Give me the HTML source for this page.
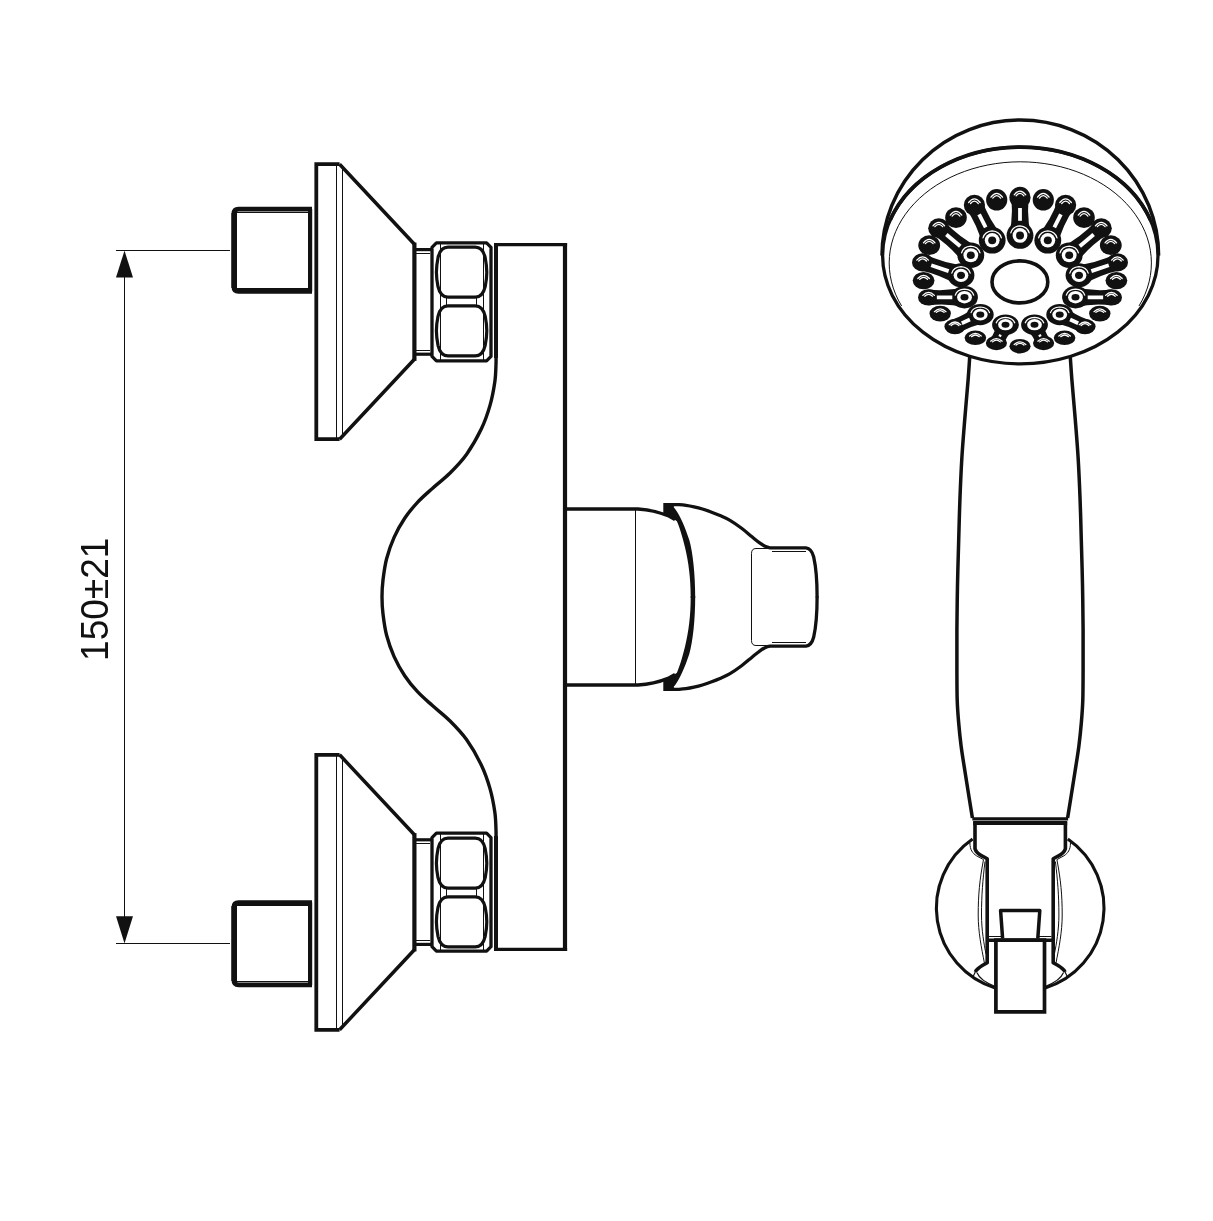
<!DOCTYPE html>
<html lang="en">
<head>
<meta charset="utf-8">
<title>Shower mixer — dimension drawing 150±21</title>
<style>
html,body{margin:0;padding:0;background:#fff;}
body{width:1213px;height:1221px;overflow:hidden;font-family:"Liberation Sans",Arial,sans-serif;}
svg{display:block;}
</style>
</head>
<body>
<svg role="img" aria-label="Shower mixer dimension drawing, inlet centres 150±21" width="1213" height="1221" viewBox="0 0 1213 1221" fill="none" stroke="#111" font-family="'Liberation Sans', Arial, sans-serif">
<g class="dim">
<line x1="116.0" y1="250.5" x2="230.0" y2="250.5" stroke-width="1" stroke-linecap="butt"/>
<line x1="116.0" y1="943.5" x2="230.0" y2="943.5" stroke-width="1" stroke-linecap="butt"/>
<line x1="124.5" y1="270.0" x2="124.5" y2="925.0" stroke-width="1" stroke-linecap="butt"/>
<polygon points="124.5,250.6 116,277.6 133,277.6" fill="#111" stroke="none"/>
<polygon points="124.5,943.4 116,916.3 133,916.3" fill="#111" stroke="none"/>
<text x="0" y="0" transform="translate(108 599.3) rotate(-90) scale(0.942 1)" text-anchor="middle" font-size="39.3" fill="#111" stroke="none" style="filter:grayscale(1)">150±21</text>
</g>
<g>
<path d="M312 209.2 H238.5 Q233.9 209.2 233.9 213.8 V286.8 Q233.9 291.4 238.5 291.4 H312" stroke-width="4.7" fill="none" />
<line x1="234.2" y1="213.0" x2="234.2" y2="288.0" stroke-width="5.6" stroke-linecap="butt"/>
<line x1="310.1" y1="209.0" x2="310.1" y2="291.6" stroke-width="4.2" stroke-linecap="butt"/>
<line x1="236.0" y1="212.5" x2="308.5" y2="212.5" stroke-width="1" stroke-linecap="butt"/>
<line x1="236.0" y1="288.5" x2="308.5" y2="288.5" stroke-width="1" stroke-linecap="butt"/>
<path d="M339.6 164.2 H316.3 V439.2 H339.6" stroke-width="3.8" fill="none" stroke-linejoin="miter"/>
<line x1="336.5" y1="165.0" x2="336.5" y2="438.0" stroke-width="1" stroke-linecap="butt"/>
<line x1="342.5" y1="168.0" x2="342.5" y2="435.0" stroke-width="1" stroke-linecap="butt"/>
<path d="M339.6 164.2 L414.4 244.3 M414.4 359.2 L339.6 439.2" stroke-width="3.5" fill="none" />
<line x1="414.4" y1="242.6" x2="414.4" y2="360.9" stroke-width="4.2" stroke-linecap="butt"/>
<line x1="414.4" y1="249.6" x2="431.0" y2="249.6" stroke-width="3.2" stroke-linecap="butt"/>
<line x1="414.4" y1="354.2" x2="431.0" y2="354.2" stroke-width="3.2" stroke-linecap="butt"/>
<line x1="416.0" y1="253.5" x2="430.0" y2="253.5" stroke-width="1" stroke-linecap="butt"/>
<line x1="416.0" y1="350.5" x2="430.0" y2="350.5" stroke-width="1" stroke-linecap="butt"/>
<path d="M436.4 242.9 H486.6 L491 247.3 V356.4 L486.6 360.8 H436.4 L432 356.4 V247.3 Z" stroke-width="3.3" fill="none" stroke-linejoin="round"/>
<path d="M448 247.2 H475.2 C479.7 247.2 483.6 250.7 485.2 257.7 C486.3 263.2 486.8 267.2 486.8 272.2 C486.8 277.2 486.3 281.2 485.2 286.7 C483.6 293.7 479.7 297.2 475.2 297.2 H448 C443.5 297.2 439.6 293.7 438 286.7 C436.9 281.2 436.4 277.2 436.4 272.2 C436.4 267.2 436.9 263.2 438 257.7 C439.6 250.7 443.5 247.2 448 247.2 Z" stroke-width="3.2" fill="none" />
<path d="M448 305.8 H475.2 C479.7 305.8 483.6 309.3 485.2 316.3 C486.3 321.8 486.8 325.8 486.8 330.8 C486.8 335.8 486.3 339.8 485.2 345.3 C483.6 352.3 479.7 355.8 475.2 355.8 H448 C443.5 355.8 439.6 352.3 438 345.3 C436.9 339.8 436.4 335.8 436.4 330.8 C436.4 325.8 436.9 321.8 438 316.3 C439.6 309.3 443.5 305.8 448 305.8 Z" stroke-width="3.2" fill="none" />
<line x1="440.5" y1="244.0" x2="440.5" y2="360.0" stroke-width="1" stroke-linecap="butt"/>
<line x1="483.5" y1="244.0" x2="483.5" y2="360.0" stroke-width="1" stroke-linecap="butt"/>
<line x1="446.5" y1="298.0" x2="446.5" y2="305.0" stroke-width="1" stroke-linecap="butt"/>
<line x1="476.5" y1="298.0" x2="476.5" y2="305.0" stroke-width="1" stroke-linecap="butt"/>
</g>
<g transform="translate(0 1194.0) scale(1 -1)">
<path d="M312 209.2 H238.5 Q233.9 209.2 233.9 213.8 V286.8 Q233.9 291.4 238.5 291.4 H312" stroke-width="4.7" fill="none" />
<line x1="234.2" y1="213.0" x2="234.2" y2="288.0" stroke-width="5.6" stroke-linecap="butt"/>
<line x1="310.1" y1="209.0" x2="310.1" y2="291.6" stroke-width="4.2" stroke-linecap="butt"/>
<line x1="236.0" y1="212.5" x2="308.5" y2="212.5" stroke-width="1" stroke-linecap="butt"/>
<line x1="236.0" y1="288.5" x2="308.5" y2="288.5" stroke-width="1" stroke-linecap="butt"/>
<path d="M339.6 164.2 H316.3 V439.2 H339.6" stroke-width="3.8" fill="none" stroke-linejoin="miter"/>
<line x1="336.5" y1="165.0" x2="336.5" y2="438.0" stroke-width="1" stroke-linecap="butt"/>
<line x1="342.5" y1="168.0" x2="342.5" y2="435.0" stroke-width="1" stroke-linecap="butt"/>
<path d="M339.6 164.2 L414.4 244.3 M414.4 359.2 L339.6 439.2" stroke-width="3.5" fill="none" />
<line x1="414.4" y1="242.6" x2="414.4" y2="360.9" stroke-width="4.2" stroke-linecap="butt"/>
<line x1="414.4" y1="249.6" x2="431.0" y2="249.6" stroke-width="3.2" stroke-linecap="butt"/>
<line x1="414.4" y1="354.2" x2="431.0" y2="354.2" stroke-width="3.2" stroke-linecap="butt"/>
<line x1="416.0" y1="253.5" x2="430.0" y2="253.5" stroke-width="1" stroke-linecap="butt"/>
<line x1="416.0" y1="350.5" x2="430.0" y2="350.5" stroke-width="1" stroke-linecap="butt"/>
<path d="M436.4 242.9 H486.6 L491 247.3 V356.4 L486.6 360.8 H436.4 L432 356.4 V247.3 Z" stroke-width="3.3" fill="none" stroke-linejoin="round"/>
<path d="M448 247.2 H475.2 C479.7 247.2 483.6 250.7 485.2 257.7 C486.3 263.2 486.8 267.2 486.8 272.2 C486.8 277.2 486.3 281.2 485.2 286.7 C483.6 293.7 479.7 297.2 475.2 297.2 H448 C443.5 297.2 439.6 293.7 438 286.7 C436.9 281.2 436.4 277.2 436.4 272.2 C436.4 267.2 436.9 263.2 438 257.7 C439.6 250.7 443.5 247.2 448 247.2 Z" stroke-width="3.2" fill="none" />
<path d="M448 305.8 H475.2 C479.7 305.8 483.6 309.3 485.2 316.3 C486.3 321.8 486.8 325.8 486.8 330.8 C486.8 335.8 486.3 339.8 485.2 345.3 C483.6 352.3 479.7 355.8 475.2 355.8 H448 C443.5 355.8 439.6 352.3 438 345.3 C436.9 339.8 436.4 335.8 436.4 330.8 C436.4 325.8 436.9 321.8 438 316.3 C439.6 309.3 443.5 305.8 448 305.8 Z" stroke-width="3.2" fill="none" />
<line x1="440.5" y1="244.0" x2="440.5" y2="360.0" stroke-width="1" stroke-linecap="butt"/>
<line x1="483.5" y1="244.0" x2="483.5" y2="360.0" stroke-width="1" stroke-linecap="butt"/>
<line x1="446.5" y1="298.0" x2="446.5" y2="305.0" stroke-width="1" stroke-linecap="butt"/>
<line x1="476.5" y1="298.0" x2="476.5" y2="305.0" stroke-width="1" stroke-linecap="butt"/>
</g>
<path d="M496.00 352.00 C496.00 356.00 496.20 359.00 496.00 364.00 C495.80 369.00 495.80 375.10 494.80 382.00 C493.80 388.90 492.23 397.60 490.00 405.40 C487.77 413.20 485.32 420.63 481.40 428.80 C477.48 436.97 471.82 446.95 466.50 454.40 C461.18 461.85 455.18 467.83 449.50 473.50 C443.82 479.17 437.73 483.60 432.40 488.40 C427.07 493.20 422.12 497.32 417.50 502.30 C412.88 507.28 408.60 512.45 404.70 518.30 C400.80 524.15 397.12 530.67 394.10 537.40 C391.08 544.13 388.45 551.60 386.60 558.70 C384.75 565.80 383.77 573.62 383.00 580.00 C382.23 586.38 382.00 591.33 382.00 597.00 C382.00 602.67 382.23 607.62 383.00 614.00 C383.77 620.38 384.75 628.20 386.60 635.30 C388.45 642.40 391.08 649.87 394.10 656.60 C397.12 663.33 400.80 669.85 404.70 675.70 C408.60 681.55 412.88 686.72 417.50 691.70 C422.12 696.68 427.07 700.80 432.40 705.60 C437.73 710.40 443.82 714.83 449.50 720.50 C455.18 726.17 461.18 732.15 466.50 739.60 C471.82 747.05 477.48 757.03 481.40 765.20 C485.32 773.37 487.77 780.80 490.00 788.60 C492.23 796.40 493.80 805.10 494.80 812.00 C495.80 818.90 495.80 825.00 496.00 830.00 C496.20 835.00 496.00 838.00 496.00 842.00 " stroke-width="3.4" fill="none" />
<line x1="496.0" y1="358.0" x2="496.0" y2="243.0" stroke-width="4.0" stroke-linecap="butt"/>
<line x1="496.0" y1="836.0" x2="496.0" y2="951.0" stroke-width="4.0" stroke-linecap="butt"/>
<line x1="565.0" y1="243.0" x2="565.0" y2="951.0" stroke-width="4.2" stroke-linecap="butt"/>
<line x1="494.0" y1="244.6" x2="567.1" y2="244.6" stroke-width="3.2" stroke-linecap="butt"/>
<line x1="494.0" y1="949.4" x2="567.1" y2="949.4" stroke-width="3.2" stroke-linecap="butt"/>
<path d="M565 509.0 H638 C648 509.6 660 512.4 668 515.6 L675 519.6" stroke-width="3.3" fill="none" />
<path d="M663.3 503.0 H676 L673.6 506.9 C679.5 514 685 527 689.3 540 C693 553 695.2 575 695.2 597 V598 H690.7 V597 C690.7 578 688.5 562 685.1 547.7 C682 535 679 526 676.9 521.3 L671 517 L663.3 513.6 Z" fill="#111" stroke="none"/>
<path d="M664.00 504.60 C666.67 504.60 669.50 504.58 672.00 504.60 C674.50 504.62 676.67 504.58 679.00 504.70 C681.33 504.82 683.50 504.95 686.00 505.30 C688.50 505.65 691.27 506.18 694.00 506.80 C696.73 507.42 699.57 508.13 702.40 509.00 C705.23 509.87 708.07 510.90 711.00 512.00 C713.93 513.10 716.83 514.20 720.00 515.60 C723.17 517.00 726.40 518.28 730.00 520.40 C733.60 522.52 737.93 525.57 741.60 528.30 C745.27 531.03 748.93 534.32 752.00 536.80 C755.07 539.28 757.83 541.62 760.00 543.20 C762.17 544.78 763.33 545.53 765.00 546.30 C766.67 547.07 768.17 547.53 770.00 547.80 C771.83 548.07 772.67 547.88 776.00 547.90 C779.33 547.92 785.33 547.90 790.00 547.90 H806 Q811.6 548.6 813.7 557 Q817.1 572 817.1 597 V597.6" stroke-width="3.3" fill="none" />
<path d="M772 548.5 H756 Q751.5 548.5 751.5 553.5 V598" stroke-width="1" fill="none" />
<line x1="772.0" y1="551.5" x2="806.0" y2="551.5" stroke-width="1" stroke-linecap="butt"/>
<g transform="translate(0 1194.0) scale(1 -1)">
<path d="M565 509.0 H638 C648 509.6 660 512.4 668 515.6 L675 519.6" stroke-width="3.3" fill="none" />
<path d="M663.3 503.0 H676 L673.6 506.9 C679.5 514 685 527 689.3 540 C693 553 695.2 575 695.2 597 V598 H690.7 V597 C690.7 578 688.5 562 685.1 547.7 C682 535 679 526 676.9 521.3 L671 517 L663.3 513.6 Z" fill="#111" stroke="none"/>
<path d="M664.00 504.60 C666.67 504.60 669.50 504.58 672.00 504.60 C674.50 504.62 676.67 504.58 679.00 504.70 C681.33 504.82 683.50 504.95 686.00 505.30 C688.50 505.65 691.27 506.18 694.00 506.80 C696.73 507.42 699.57 508.13 702.40 509.00 C705.23 509.87 708.07 510.90 711.00 512.00 C713.93 513.10 716.83 514.20 720.00 515.60 C723.17 517.00 726.40 518.28 730.00 520.40 C733.60 522.52 737.93 525.57 741.60 528.30 C745.27 531.03 748.93 534.32 752.00 536.80 C755.07 539.28 757.83 541.62 760.00 543.20 C762.17 544.78 763.33 545.53 765.00 546.30 C766.67 547.07 768.17 547.53 770.00 547.80 C771.83 548.07 772.67 547.88 776.00 547.90 C779.33 547.92 785.33 547.90 790.00 547.90 H806 Q811.6 548.6 813.7 557 Q817.1 572 817.1 597 V597.6" stroke-width="3.3" fill="none" />
<path d="M772 548.5 H756 Q751.5 548.5 751.5 553.5 V598" stroke-width="1" fill="none" />
<line x1="772.0" y1="551.5" x2="806.0" y2="551.5" stroke-width="1" stroke-linecap="butt"/>
</g>
<line x1="635.5" y1="509.0" x2="635.5" y2="685.0" stroke-width="1" stroke-linecap="butt"/>
<path d="M969.70 357.00 C969.17 364.67 968.93 369.50 968.10 380.00 C967.27 390.50 965.75 406.83 964.70 420.00 C963.65 433.17 962.60 445.67 961.80 459.00 C961.00 472.33 960.42 486.50 959.90 500.00 C959.38 513.50 959.10 525.83 958.70 540.00 C958.30 554.17 957.80 570.00 957.50 585.00 C957.20 600.00 957.00 615.83 956.90 630.00 C956.80 644.17 956.85 658.33 956.90 670.00 C956.95 681.67 956.92 691.33 957.20 700.00 C957.48 708.67 957.95 714.33 958.60 722.00 C959.25 729.67 960.02 737.62 961.10 746.00 C962.18 754.38 963.73 763.52 965.10 772.30 C966.47 781.08 968.08 791.08 969.30 798.70 C970.52 806.32 971.37 811.57 972.40 818.00 " stroke-width="3.5" fill="none" />
<path d="M1070.30 357.00 C1070.83 364.67 1071.07 369.50 1071.90 380.00 C1072.73 390.50 1074.25 406.83 1075.30 420.00 C1076.35 433.17 1077.40 445.67 1078.20 459.00 C1079.00 472.33 1079.58 486.50 1080.10 500.00 C1080.62 513.50 1080.90 525.83 1081.30 540.00 C1081.70 554.17 1082.20 570.00 1082.50 585.00 C1082.80 600.00 1083.00 615.83 1083.10 630.00 C1083.20 644.17 1083.15 658.33 1083.10 670.00 C1083.05 681.67 1083.08 691.33 1082.80 700.00 C1082.52 708.67 1082.05 714.33 1081.40 722.00 C1080.75 729.67 1079.98 737.62 1078.90 746.00 C1077.82 754.38 1076.27 763.52 1074.90 772.30 C1073.53 781.08 1071.92 791.08 1070.70 798.70 C1069.48 806.32 1068.63 811.57 1067.60 818.00 " stroke-width="3.5" fill="none" />
<path d="M882.0 255.5 A138.3 135.6 0 0 1 1158.6 255.5" stroke-width="3.5" fill="none"/>
<ellipse cx="1020.3" cy="255.5" rx="137.7" ry="108.4" stroke-width="3.3" fill="none"/>
<path d="M890.3 219.8 A137.6 108.2 0 0 1 1150.3 219.8" stroke-width="3.7" fill="none"/>
<path d="M901.62 306.00 A131.1 101.2 0 1 1 1138.98 306.00" stroke-width="1.0" fill="none" />
<ellipse cx="1019.9" cy="281.9" rx="27.9" ry="21" stroke-width="3.6" fill="none"/>
<g stroke="none" fill="#111">
<ellipse cx="996.7" cy="199.8" rx="10.6" ry="10.8"/>
<ellipse cx="1043.3" cy="199.8" rx="10.6" ry="10.8"/>
<ellipse cx="956.0" cy="217.6" rx="10.8" ry="10.4"/>
<ellipse cx="1084.0" cy="217.6" rx="10.8" ry="10.4"/>
<ellipse cx="929.2" cy="245.2" rx="10.9" ry="9.9"/>
<ellipse cx="1110.8" cy="245.2" rx="10.9" ry="9.9"/>
<ellipse cx="923.6" cy="280.6" rx="10.9" ry="8.7"/>
<ellipse cx="1116.4" cy="280.6" rx="10.9" ry="8.7"/>
<ellipse cx="940.2" cy="313.6" rx="10.7" ry="7.9"/>
<ellipse cx="1099.8" cy="313.6" rx="10.7" ry="7.9"/>
<ellipse cx="975.4" cy="337.8" rx="10.8" ry="7.3"/>
<ellipse cx="1064.6" cy="337.8" rx="10.8" ry="7.3"/>
<ellipse cx="1020.0" cy="346.2" rx="10.6" ry="7.2"/>
<ellipse cx="1020.0" cy="197.4" rx="10.6" ry="10.6"/>
<ellipse cx="1020.0" cy="235.4" rx="13.4" ry="13.4"/>
<path d="M1031.0 235.4 Q1026.4 216.4 1029.0 197.4 L1011.0 197.4 Q1013.6 216.4 1009.0 235.4 Z"/>
<ellipse cx="974.4" cy="205.1" rx="10.6" ry="10.4"/>
<ellipse cx="992.2" cy="240.3" rx="13.4" ry="13.2"/>
<path d="M1001.9 235.4 Q989.0 219.8 982.4 201.1 L966.4 209.1 Q977.6 225.6 982.5 245.2 Z"/>
<ellipse cx="1065.6" cy="205.1" rx="10.6" ry="10.4"/>
<ellipse cx="1047.8" cy="240.3" rx="13.4" ry="13.2"/>
<path d="M1057.5 245.2 Q1062.4 225.6 1073.6 209.1 L1057.6 201.1 Q1051.0 219.8 1038.1 235.4 Z"/>
<ellipse cx="938.8" cy="228.2" rx="10.6" ry="9.9"/>
<ellipse cx="970.8" cy="255.2" rx="13.4" ry="12.7"/>
<path d="M977.7 247.0 Q958.8 236.9 944.4 221.6 L933.2 234.8 Q950.8 246.5 963.9 263.4 Z"/>
<ellipse cx="1101.2" cy="228.2" rx="10.6" ry="9.9"/>
<ellipse cx="1069.2" cy="255.2" rx="13.4" ry="12.7"/>
<path d="M1076.1 263.4 Q1089.2 246.5 1106.8 234.8 L1095.6 221.6 Q1081.2 236.9 1062.3 247.0 Z"/>
<ellipse cx="922.6" cy="262.4" rx="10.6" ry="9.1"/>
<ellipse cx="961.0" cy="275.3" rx="13.4" ry="12.0"/>
<path d="M964.3 265.4 Q943.7 263.1 925.3 254.5 L919.9 270.3 Q939.9 274.6 957.7 285.2 Z"/>
<ellipse cx="1117.4" cy="262.4" rx="10.6" ry="9.1"/>
<ellipse cx="1079.0" cy="275.3" rx="13.4" ry="12.0"/>
<path d="M1082.3 285.2 Q1100.1 274.6 1120.1 270.3 L1114.7 254.5 Q1096.3 263.1 1075.7 265.4 Z"/>
<ellipse cx="928.6" cy="297.4" rx="10.6" ry="8.2"/>
<ellipse cx="964.5" cy="297.2" rx="13.4" ry="11.2"/>
<path d="M964.4 287.2 Q946.5 291.5 928.6 289.5 L928.6 305.3 Q946.6 303.1 964.6 307.2 Z"/>
<ellipse cx="1111.4" cy="297.4" rx="10.6" ry="8.2"/>
<ellipse cx="1075.5" cy="297.2" rx="13.4" ry="11.2"/>
<path d="M1075.4 307.2 Q1093.4 303.1 1111.4 305.3 L1111.4 289.5 Q1093.5 291.5 1075.6 287.2 Z"/>
<ellipse cx="955.0" cy="326.6" rx="10.6" ry="7.6"/>
<ellipse cx="980.3" cy="314.6" rx="13.4" ry="10.6"/>
<path d="M976.1 305.8 Q965.2 315.5 951.7 319.7 L958.3 333.5 Q970.1 325.7 984.5 323.4 Z"/>
<ellipse cx="1085.0" cy="326.6" rx="10.6" ry="7.6"/>
<ellipse cx="1059.7" cy="314.6" rx="13.4" ry="10.6"/>
<path d="M1055.5 323.4 Q1069.9 325.7 1081.7 333.5 L1088.3 319.7 Q1074.8 315.5 1063.9 305.8 Z"/>
<ellipse cx="996.4" cy="343.0" rx="10.6" ry="7.2"/>
<ellipse cx="1005.5" cy="324.7" rx="13.4" ry="10.2"/>
<path d="M996.9 320.4 Q996.0 331.4 989.8 339.7 L1003.0 346.3 Q1005.9 336.3 1014.1 329.0 Z"/>
<ellipse cx="1043.6" cy="343.0" rx="10.6" ry="7.2"/>
<ellipse cx="1034.5" cy="324.7" rx="13.4" ry="10.2"/>
<path d="M1025.9 329.0 Q1034.1 336.3 1037.0 346.3 L1050.2 339.7 Q1044.0 331.4 1043.1 320.4 Z"/>
</g>
<g stroke="none" fill="#fff">
<ellipse cx="1020.0" cy="235.4" rx="7.4" ry="7.4"/>
<ellipse cx="1020.0" cy="235.4" rx="4.0" ry="4.0" fill="#111"/>
<path d="M1021.9 220.8 L1021.9 208.0 L1018.1 208.0 L1018.1 220.8 Z"/>
<ellipse cx="992.2" cy="240.3" rx="7.4" ry="7.3"/>
<ellipse cx="992.2" cy="240.3" rx="4.0" ry="3.9" fill="#111"/>
<path d="M987.4 226.6 L980.8 213.5 L977.4 215.2 L984.0 228.3 Z"/>
<ellipse cx="1047.8" cy="240.3" rx="7.4" ry="7.3"/>
<ellipse cx="1047.8" cy="240.3" rx="4.0" ry="3.9" fill="#111"/>
<path d="M1056.0 228.3 L1062.6 215.2 L1059.2 213.5 L1052.6 226.6 Z"/>
<ellipse cx="970.8" cy="255.2" rx="7.4" ry="7.0"/>
<ellipse cx="970.8" cy="255.2" rx="4.0" ry="3.8" fill="#111"/>
<path d="M961.5 244.8 L947.6 233.1 L945.1 236.0 L959.0 247.7 Z"/>
<ellipse cx="1069.2" cy="255.2" rx="7.4" ry="7.0"/>
<ellipse cx="1069.2" cy="255.2" rx="4.0" ry="3.8" fill="#111"/>
<path d="M1081.0 247.7 L1094.9 236.0 L1092.4 233.1 L1078.5 244.8 Z"/>
<ellipse cx="961.0" cy="275.3" rx="7.4" ry="6.6"/>
<ellipse cx="961.0" cy="275.3" rx="4.0" ry="3.6" fill="#111"/>
<path d="M949.3 269.3 L931.8 263.5 L930.6 267.1 L948.0 273.0 Z"/>
<ellipse cx="1079.0" cy="275.3" rx="7.4" ry="6.6"/>
<ellipse cx="1079.0" cy="275.3" rx="4.0" ry="3.6" fill="#111"/>
<path d="M1092.0 273.0 L1109.4 267.1 L1108.2 263.5 L1090.7 269.3 Z"/>
<ellipse cx="964.5" cy="297.2" rx="7.4" ry="6.2"/>
<ellipse cx="964.5" cy="297.2" rx="4.0" ry="3.3" fill="#111"/>
<path d="M952.3 295.4 L936.8 295.5 L936.9 299.3 L952.3 299.2 Z"/>
<ellipse cx="1075.5" cy="297.2" rx="7.4" ry="6.2"/>
<ellipse cx="1075.5" cy="297.2" rx="4.0" ry="3.3" fill="#111"/>
<path d="M1087.7 299.2 L1103.1 299.3 L1103.2 295.5 L1087.7 295.4 Z"/>
<ellipse cx="980.3" cy="314.6" rx="7.4" ry="5.8"/>
<ellipse cx="980.3" cy="314.6" rx="4.0" ry="3.2" fill="#111"/>
<path d="M969.1 317.8 L961.0 321.6 L962.6 325.1 L970.7 321.2 Z"/>
<ellipse cx="1059.7" cy="314.6" rx="7.4" ry="5.8"/>
<ellipse cx="1059.7" cy="314.6" rx="4.0" ry="3.2" fill="#111"/>
<path d="M1069.3 321.2 L1077.4 325.1 L1079.0 321.6 L1070.9 317.8 Z"/>
<ellipse cx="1005.5" cy="324.7" rx="7.4" ry="5.6"/>
<ellipse cx="1005.5" cy="324.7" rx="4.0" ry="3.0" fill="#111"/>
<path d="M999.4 334.1 L998.4 336.0 L1000.8 337.2 L1001.7 335.2 Z"/>
<ellipse cx="1034.5" cy="324.7" rx="7.4" ry="5.6"/>
<ellipse cx="1034.5" cy="324.7" rx="4.0" ry="3.0" fill="#111"/>
<path d="M1038.3 335.2 L1039.2 337.2 L1041.6 336.0 L1040.6 334.1 Z"/>
</g>
<g stroke="#fff" stroke-width="1.25" fill="none" stroke-linecap="round">
<path d="M1014.2 194.8 Q1020.0 187.2 1025.8 194.8"/>
<path d="M1016.1 195.8 Q1020.0 190.8 1023.9 195.8"/>
<path d="M1010.8 232.9 Q1012.5 226.4 1020.0 225.8 Q1027.5 226.4 1029.2 232.9"/>
<path d="M968.6 202.5 Q974.4 195.1 980.2 202.5"/>
<path d="M970.5 203.5 Q974.4 198.6 978.3 203.5"/>
<path d="M983.0 237.8 Q984.7 231.4 992.2 230.8 Q999.7 231.4 1001.4 237.8"/>
<path d="M1059.8 202.5 Q1065.6 195.1 1071.4 202.5"/>
<path d="M1061.7 203.5 Q1065.6 198.6 1069.5 203.5"/>
<path d="M1038.6 237.8 Q1040.3 231.4 1047.8 230.8 Q1055.3 231.4 1057.0 237.8"/>
<path d="M933.0 225.8 Q938.8 218.7 944.6 225.8"/>
<path d="M934.9 226.7 Q938.8 222.1 942.7 226.7"/>
<path d="M961.6 252.8 Q963.3 246.7 970.8 246.1 Q978.3 246.7 980.0 252.8"/>
<path d="M1095.4 225.8 Q1101.2 218.7 1107.0 225.8"/>
<path d="M1097.3 226.7 Q1101.2 222.1 1105.1 226.7"/>
<path d="M1060.0 252.8 Q1061.7 246.7 1069.2 246.1 Q1076.7 246.7 1078.4 252.8"/>
<path d="M916.8 260.2 Q922.6 253.7 928.4 260.2"/>
<path d="M918.7 261.0 Q922.6 256.8 926.5 261.0"/>
<path d="M951.8 273.1 Q953.5 267.3 961.0 266.7 Q968.5 267.3 970.2 273.1"/>
<path d="M1111.6 260.2 Q1117.4 253.7 1123.2 260.2"/>
<path d="M1113.5 261.0 Q1117.4 256.8 1121.3 261.0"/>
<path d="M1069.8 273.1 Q1071.5 267.3 1079.0 266.7 Q1086.5 267.3 1088.2 273.1"/>
<path d="M922.8 295.4 Q928.6 289.5 934.4 295.4"/>
<path d="M924.7 296.2 Q928.6 292.3 932.5 296.2"/>
<path d="M955.3 295.1 Q957.0 289.7 964.5 289.2 Q972.0 289.7 973.7 295.1"/>
<path d="M1105.6 295.4 Q1111.4 289.5 1117.2 295.4"/>
<path d="M1107.5 296.2 Q1111.4 292.3 1115.3 296.2"/>
<path d="M1066.3 295.1 Q1068.0 289.7 1075.5 289.2 Q1083.0 289.7 1084.7 295.1"/>
<path d="M949.2 324.7 Q955.0 319.3 960.8 324.7"/>
<path d="M951.1 325.5 Q955.0 321.9 958.9 325.5"/>
<path d="M971.1 312.6 Q972.8 307.5 980.3 307.0 Q987.8 307.5 989.5 312.6"/>
<path d="M1079.2 324.7 Q1085.0 319.3 1090.8 324.7"/>
<path d="M1081.1 325.5 Q1085.0 321.9 1088.9 325.5"/>
<path d="M1050.5 312.6 Q1052.2 307.5 1059.7 307.0 Q1067.2 307.5 1068.9 312.6"/>
<path d="M990.6 341.2 Q996.4 336.1 1002.2 341.2"/>
<path d="M992.5 341.9 Q996.4 338.5 1000.3 341.9"/>
<path d="M996.3 322.8 Q998.0 317.9 1005.5 317.4 Q1013.0 317.9 1014.7 322.8"/>
<path d="M1037.8 341.2 Q1043.6 336.1 1049.4 341.2"/>
<path d="M1039.7 341.9 Q1043.6 338.5 1047.5 341.9"/>
<path d="M1025.3 322.8 Q1027.0 317.9 1034.5 317.4 Q1042.0 317.9 1043.7 322.8"/>
<path d="M990.9 197.2 Q996.7 189.6 1002.5 197.2"/>
<path d="M992.8 198.2 Q996.7 193.2 1000.6 198.2"/>
<path d="M1037.5 197.2 Q1043.3 189.6 1049.1 197.2"/>
<path d="M1039.4 198.2 Q1043.3 193.2 1047.2 198.2"/>
<path d="M950.2 215.1 Q956.0 207.8 961.8 215.1"/>
<path d="M952.1 216.1 Q956.0 211.2 959.9 216.1"/>
<path d="M1078.2 215.1 Q1084.0 207.8 1089.8 215.1"/>
<path d="M1080.1 216.1 Q1084.0 211.2 1087.9 216.1"/>
<path d="M923.4 242.8 Q929.2 235.8 935.0 242.8"/>
<path d="M925.3 243.7 Q929.2 239.1 933.1 243.7"/>
<path d="M1105.0 242.8 Q1110.8 235.8 1116.6 242.8"/>
<path d="M1106.9 243.7 Q1110.8 239.1 1114.7 243.7"/>
<path d="M917.8 278.5 Q923.6 272.4 929.4 278.5"/>
<path d="M919.7 279.3 Q923.6 275.3 927.5 279.3"/>
<path d="M1110.6 278.5 Q1116.4 272.4 1122.2 278.5"/>
<path d="M1112.5 279.3 Q1116.4 275.3 1120.3 279.3"/>
<path d="M934.4 311.7 Q940.2 306.1 946.0 311.7"/>
<path d="M936.3 312.4 Q940.2 308.8 944.1 312.4"/>
<path d="M1094.0 311.7 Q1099.8 306.1 1105.6 311.7"/>
<path d="M1095.9 312.4 Q1099.8 308.8 1103.7 312.4"/>
<path d="M969.6 336.0 Q975.4 330.9 981.2 336.0"/>
<path d="M971.5 336.7 Q975.4 333.3 979.3 336.7"/>
<path d="M1058.8 336.0 Q1064.6 330.9 1070.4 336.0"/>
<path d="M1060.7 336.7 Q1064.6 333.3 1068.5 336.7"/>
<path d="M1014.2 344.5 Q1020.0 339.4 1025.8 344.5"/>
<path d="M1016.1 345.1 Q1020.0 341.8 1023.9 345.1"/>
</g>
<path d="M972.60 839.03 A83.8 83.8 0 0 0 995.90 988.20" stroke-width="3.1" fill="none" />
<path d="M975 821.5 V848.7 C976 852.2 979.3 854.6 982.7 856.3 L987.2 858.8 V962.7 L982.7 965.3 C979.6 967.2 976.6 969.4 975.3 972" stroke-width="3.6" fill="none" stroke-linejoin="round"/>
<path d="M975.3 972 L972.9 976.9" stroke-width="1.2" fill="none" />
<path d="M977 972.8 C979 977.5 985 982.5 994.2 986" stroke-width="1.2" fill="none" />
<path d="M969.9 843 C970 849.8 972.5 853.2 976.5 855.8 L983.5 859.6" stroke-width="1.0" fill="none" />
<path d="M983.5 859.6 C979.6 880 978.2 895 978.2 915 C978.2 932 981.5 948 984.4 962.9" stroke-width="1.0" fill="none" />
<path d="M985 861.5 C982.8 880 981.5 895 981.5 915 C981.5 930 984 944 986 954" stroke-width="1.0" fill="none" />
<g transform="translate(2040.4 0) scale(-1 1)">
<path d="M972.60 839.03 A83.8 83.8 0 0 0 995.90 988.20" stroke-width="3.1" fill="none" />
<path d="M975 821.5 V848.7 C976 852.2 979.3 854.6 982.7 856.3 L987.2 858.8 V962.7 L982.7 965.3 C979.6 967.2 976.6 969.4 975.3 972" stroke-width="3.6" fill="none" stroke-linejoin="round"/>
<path d="M975.3 972 L972.9 976.9" stroke-width="1.2" fill="none" />
<path d="M977 972.8 C979 977.5 985 982.5 994.2 986" stroke-width="1.2" fill="none" />
<path d="M969.9 843 C970 849.8 972.5 853.2 976.5 855.8 L983.5 859.6" stroke-width="1.0" fill="none" />
<path d="M983.5 859.6 C979.6 880 978.2 895 978.2 915 C978.2 932 981.5 948 984.4 962.9" stroke-width="1.0" fill="none" />
<path d="M985 861.5 C982.8 880 981.5 895 981.5 915 C981.5 930 984 944 986 954" stroke-width="1.0" fill="none" />
</g>
<line x1="972.3" y1="818.9" x2="1068.1" y2="818.9" stroke-width="3.2" stroke-linecap="butt"/>
<line x1="973.2" y1="823.0" x2="1067.2" y2="823.0" stroke-width="3.8" stroke-linecap="butt"/>
<line x1="987.2" y1="940.2" x2="1053.2" y2="940.2" stroke-width="3.4" stroke-linecap="butt"/>
<line x1="989.0" y1="936.5" x2="1002.0" y2="936.5" stroke-width="1" stroke-linecap="butt"/>
<line x1="1038.4" y1="936.5" x2="1051.4" y2="936.5" stroke-width="1" stroke-linecap="butt"/>
<path d="M1002.6 938.5 L1000.6 910.6 H1039.8 L1037.8 938.5" stroke-width="3.5" fill="none" stroke-linejoin="round"/>
<path d="M995.9 940.2 H1044.5 V1011.9 H995.9 Z" stroke-width="3.7" fill="#fff" stroke-linejoin="miter"/>
</svg>
</body>
</html>
